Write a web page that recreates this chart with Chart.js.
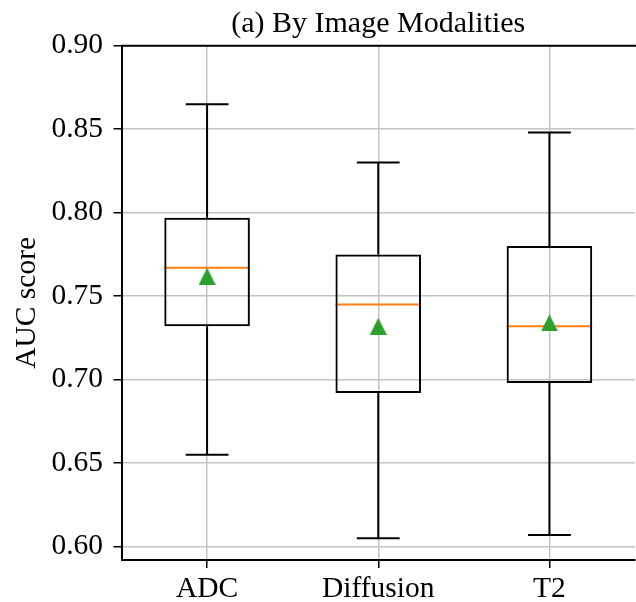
<!DOCTYPE html>
<html>
<head>
<meta charset="utf-8">
<script src="https://cdn.jsdelivr.net/npm/chart.js@4"></script>
<style>
  html, body { margin: 0; padding: 0; background: #fff; overflow: hidden; width: 636px; height: 602px; }
  canvas { display: block; }
</style>
</head>
<body>
<canvas id="myChart" width="640" height="602"></canvas>
<script>
// data
const modalities = ['ADC', 'Diffusion', 'T2'];
const whiskerLow = [0.655, 0.605, 0.607];
const q1 = [0.732, 0.692, 0.698];
const median = [0.767, 0.745, 0.732];
const q3 = [0.797, 0.775, 0.780];
const whiskerHigh = [0.865, 0.830, 0.848];
const means = [0.762, 0.732, 0.734];
const yTicks = [0.60, 0.65, 0.70, 0.75, 0.80, 0.85, 0.90];
const chartTitle = '(a) By Image Modalities';

const serifFamily = "'Liberation Serif', 'Times New Roman', serif";
const serif = { family: serifFamily, size: 29.5 };
const gridColor = '#c4c4c4';

// green triangle marker, matplotlib '^' style (centered on its box)
const tri = document.createElement('canvas');
tri.width = 17; tri.height = 17;
(() => {
  const c = tri.getContext('2d');
  c.fillStyle = '#2ca02c';
  c.beginPath();
  c.moveTo(8.5, 0);
  c.lineTo(17, 17);
  c.lineTo(0, 17);
  c.closePath();
  c.fill();
})();

// whiskers, caps, medians, top spine and the title (centred over the axes)
const boxParts = {
  id: 'boxParts',
  beforeDatasetsDraw(chart) {
    const { ctx, scales: { x, y } } = chart;
    const step = x.getPixelForValue(1) - x.getPixelForValue(0);
    ctx.save();
    ctx.lineWidth = 2;
    modalities.forEach((m, i) => {
      const cx = x.getPixelForValue(i);
      const cap = step * 0.125;
      ctx.strokeStyle = '#000';
      ctx.beginPath();
      ctx.moveTo(cx, y.getPixelForValue(q3[i]));
      ctx.lineTo(cx, y.getPixelForValue(whiskerHigh[i]));
      ctx.moveTo(cx, y.getPixelForValue(q1[i]));
      ctx.lineTo(cx, y.getPixelForValue(whiskerLow[i]));
      ctx.moveTo(cx - cap, y.getPixelForValue(whiskerHigh[i]));
      ctx.lineTo(cx + cap, y.getPixelForValue(whiskerHigh[i]));
      ctx.moveTo(cx - cap, y.getPixelForValue(whiskerLow[i]));
      ctx.lineTo(cx + cap, y.getPixelForValue(whiskerLow[i]));
      ctx.stroke();
      ctx.strokeStyle = '#ff7f0e';
      ctx.beginPath();
      ctx.moveTo(cx - step * 0.25, y.getPixelForValue(median[i]));
      ctx.lineTo(cx + step * 0.25, y.getPixelForValue(median[i]));
      ctx.stroke();
    });
    ctx.restore();
  },
  afterDraw(chart) {
    const { ctx, chartArea: { left, right, top } } = chart;
    ctx.save();
    ctx.strokeStyle = '#000';
    ctx.lineWidth = 2;
    ctx.beginPath();
    ctx.moveTo(left, top);
    ctx.lineTo(right + 2, top);
    ctx.stroke();
    ctx.fillStyle = '#000';
    ctx.font = '30px ' + serifFamily;
    ctx.textAlign = 'center';
    ctx.textBaseline = 'alphabetic';
    ctx.fillText(chartTitle, (left + right) / 2, 32);
    ctx.restore();
  }
};

const data = {
  labels: modalities,
  datasets: [
    {
      type: 'line',
      label: 'Mean',
      data: means,
      showLine: false,
      pointStyle: tri,
      order: 0
    },
    {
      type: 'bar',
      label: 'IQR',
      data: modalities.map((m, i) => [q1[i], q3[i]]),
      backgroundColor: 'rgba(0,0,0,0)',
      borderColor: '#000',
      borderWidth: 2,
      borderSkipped: false,
      barPercentage: 0.5,
      categoryPercentage: 1.0,
      order: 1
    }
  ]
};

const config = {
  type: 'bar',
  data,
  options: {
    responsive: false,
    animation: false,
    layout: { padding: { top: 45.7, right: 1 } },
    plugins: {
      legend: { display: false },
      tooltip: { enabled: false },
      title: { display: false }
    },
    scales: {
      x: {
        type: 'category',
        offset: true,
        grid: { offset: false, color: gridColor, lineWidth: 1.5, tickColor: '#000', tickLength: 8, tickWidth: 1.5 },
        border: { color: '#000', width: 2 },
        ticks: { color: '#000', font: serif, padding: 4, maxRotation: 0 },
        afterFit(s) { s.height = 42; }
      },
      y: {
        min: 0.592,
        max: 0.9,
        afterBuildTicks(s) { s.ticks = yTicks.map(v => ({ value: v })); },
        grid: { color: gridColor, lineWidth: 1.5, tickColor: '#000', tickLength: 8, tickWidth: 1.5 },
        border: { color: '#000', width: 2 },
        ticks: { color: '#000', font: serif, padding: 10.5, callback: v => Number(v).toFixed(2) },
        title: { display: true, text: 'AUC score', color: '#000', font: serif, padding: { top: 10, bottom: 0 } },
        afterFit(s) { s.width = 121.5; }
      }
    }
  },
  plugins: [boxParts]
};

const myChart = new Chart(document.getElementById('myChart'), config);
</script>
</body>
</html>
